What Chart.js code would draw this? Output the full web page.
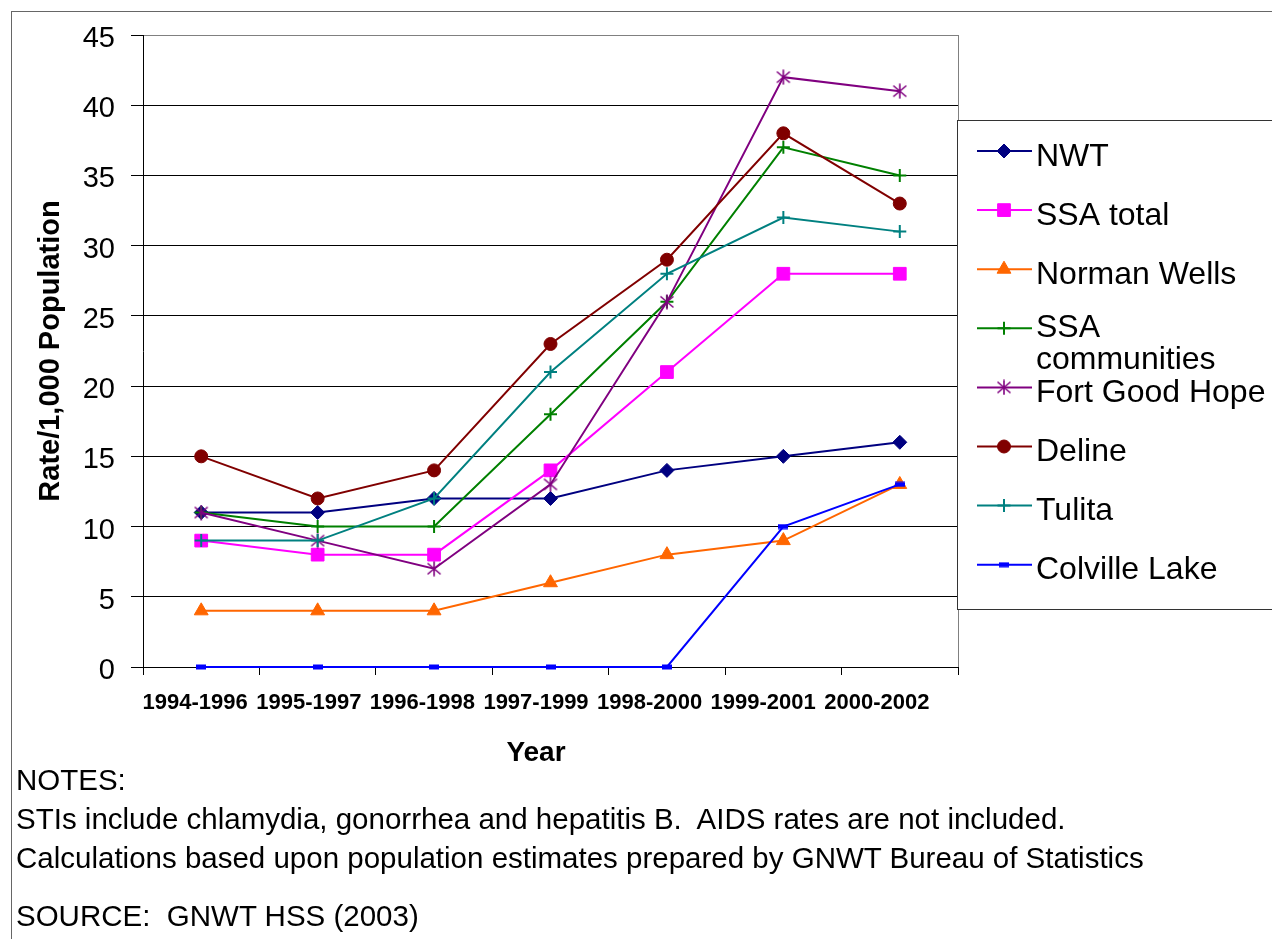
<!DOCTYPE html>
<html><head><meta charset="utf-8">
<script src="https://cdn.jsdelivr.net/npm/chart.js@4.4.1/dist/chart.umd.min.js"></script>
<style>
html,body{margin:0;padding:0;background:#fff;width:1272px;height:939px;overflow:hidden;position:relative;font-family:'Liberation Sans',Arial,sans-serif}
#frame{position:absolute;left:11px;top:11px;width:1400px;height:1100px;border:1px solid #666;box-sizing:border-box}
#c{position:absolute;left:0;top:0}
.note{position:absolute;left:16px;font-size:29.5px;line-height:29px;white-space:pre;color:#000}
</style></head><body>
<div id="frame"></div>
<canvas id="c" width="1272" height="939"></canvas>
<div class="note" style="top:765px">NOTES:</div>
<div class="note" style="top:804px">STIs include chlamydia, gonorrhea and hepatitis B.  AIDS rates are not included.</div>
<div class="note" style="top:843px">Calculations based upon population estimates prepared by GNWT Bureau of Statistics</div>
<div class="note" style="top:901px">SOURCE:  GNWT HSS (2003)</div>
<script>
// ---- data ----
const categories = ['1994-1996','1995-1997','1996-1998','1997-1999','1998-2000','1999-2001','2000-2002'];
const seriesNames = ['NWT','SSA total','Norman Wells','SSA communities','Fort Good Hope','Deline','Tulita','Colville Lake'];
const nwt            = [11, 11, 12, 12, 14, 15, 16];
const ssaTotal       = [9, 8, 8, 14, 21, 28, 28];
const normanWells    = [4, 4, 4, 6, 8, 9, 13];
const ssaCommunities = [11, 10, 10, 18, 26, 37, 35];
const fortGoodHope   = [11, 9, 7, 13, 26, 42, 41];
const deline         = [15, 12, 14, 23, 29, 38, 33];
const tulita         = [9, 9, 12, 21, 28, 32, 31];
const colvilleLake   = [0, 0, 0, 0, 0, 10, 13];
const yMin = 0, yMax = 45, yStep = 5;
const yTitle = 'Rate/1,000 Population';
const xTitle = 'Year';

// ---- styling ----
const FONT = "'Liberation Sans', Arial, sans-serif";
Chart.defaults.font.family = FONT;
Chart.defaults.color = '#000';

function makeAsterisk(color){
  const c = document.createElement('canvas'); c.width = 16; c.height = 16;
  const g = c.getContext('2d'); g.strokeStyle = color; g.lineWidth = 1.6;
  g.beginPath();
  g.moveTo(8,0.5); g.lineTo(8,15.5);
  g.moveTo(1.5,2.5); g.lineTo(14.5,13.5);
  g.moveTo(14.5,2.5); g.lineTo(1.5,13.5);
  g.stroke(); return c;
}
function makeBar(color){
  const c = document.createElement('canvas'); c.width = 10; c.height = 6;
  const g = c.getContext('2d'); g.fillStyle = color; g.fillRect(0,0.5,10,5); return c;
}

const styles = [
  {color:'#000080', pointStyle:'rectRot', radius:7, bw:1},
  {color:'#FF00FF', pointStyle:'rect', radius:9, bw:1},
  {color:'#FF6600', pointStyle:'triangle', radius:8, bw:1},
  {color:'#008000', pointStyle:'cross', radius:6.5, bw:2},
  {color:'#800080', pointStyle:makeAsterisk('#800080'), radius:7, bw:0},
  {color:'#800000', pointStyle:'circle', radius:6.5, bw:1},
  {color:'#008080', pointStyle:'cross', radius:6.5, bw:2},
  {color:'#0000FF', pointStyle:makeBar('#0000FF'), radius:5, bw:0}
];
const values = [nwt, ssaTotal, normanWells, ssaCommunities, fortGoodHope, deline, tulita, colvilleLake];

const datasets = values.map((v, i) => ({
  label: seriesNames[i],
  data: v,
  borderColor: styles[i].color,
  backgroundColor: styles[i].color,
  borderWidth: 2,
  tension: 0,
  fill: false,
  pointStyle: styles[i].pointStyle,
  pointRadius: styles[i].radius,
  pointHoverRadius: styles[i].radius,
  pointBackgroundColor: styles[i].color,
  pointBorderColor: styles[i].color,
  pointBorderWidth: styles[i].bw,
  clip: false,
  order: -i
}));

const LABEL_SPREAD = 0.9757, LABEL_SHIFT = -14.5;

function wrapText(ctx, text, maxW){
  const words = text.split(' '); const lines = []; let cur = '';
  words.forEach(w => {
    const t = cur ? cur + ' ' + w : w;
    if (cur && ctx.measureText(t).width > maxW) { lines.push(cur); cur = w; } else cur = t;
  });
  if (cur) lines.push(cur);
  return lines;
}

const plotBorder = {
  id: 'plotBorder',
  beforeDatasetsDraw(chart){
    const {ctx, chartArea} = chart;
    ctx.save(); ctx.strokeStyle = '#808080'; ctx.lineWidth = 1;
    const x = Math.round(chartArea.right) + 0.5;
    ctx.beginPath(); ctx.moveTo(x, chartArea.top); ctx.lineTo(x, chartArea.bottom); ctx.stroke();
    ctx.restore();
  }
};

const legendBox = {
  id: 'legendBox',
  afterDraw(chart){
    const ctx = chart.ctx;
    ctx.save();
    ctx.fillStyle = '#fff'; ctx.fillRect(957, 120, 340, 489);
    ctx.strokeStyle = '#333'; ctx.lineWidth = 1; ctx.strokeRect(957.5, 120.5, 340, 489);
    ctx.font = '32px ' + FONT;
    chart.data.datasets.forEach((ds, i) => {
      const y = 151 + i * 59.1;
      ctx.strokeStyle = ds.borderColor; ctx.lineWidth = 2;
      ctx.beginPath(); ctx.moveTo(977, y); ctx.lineTo(1032, y); ctx.stroke();
      ctx.fillStyle = ds.pointBackgroundColor; ctx.strokeStyle = ds.pointBorderColor; ctx.lineWidth = ds.pointBorderWidth;
      Chart.helpers.drawPoint(ctx, {pointStyle: ds.pointStyle, radius: ds.pointRadius, rotation: 0, borderWidth: ds.pointBorderWidth}, 1004, y);
      ctx.fillStyle = '#000'; ctx.textAlign = 'left'; ctx.textBaseline = 'alphabetic';
      const lines = wrapText(ctx, ds.label, 240);
      const by = y + 14.5 - (lines.length - 1) * 6;
      lines.forEach((ln, k) => ctx.fillText(ln, 1036, by + k * 32));
    });
    ctx.restore();
  }
};

new Chart(document.getElementById('c'), {
  type: 'line',
  data: { labels: categories, datasets },
  plugins: [plotBorder, legendBox],
  options: {
    responsive: false,
    animation: false,
    devicePixelRatio: 1,
    layout: { padding: { left: 0, top: 35, right: 314, bottom: 169 } },
    plugins: { legend: { display: false }, tooltip: { enabled: false }, title: { display: false } },
    scales: {
      x: {
        type: 'category',
        offset: true,
        grid: { display: true, drawOnChartArea: false, drawTicks: true, tickLength: 8, offset: true, color: '#000', lineWidth: 1 },
        border: { display: true, color: '#000', width: 1 },
        ticks: { autoSkip: false, maxRotation: 0, minRotation: 0, padding: 15, color: '#000', font: { size: 22, weight: 'bold' } },
        title: { display: true, text: xTitle, color: '#000', font: { size: 28, weight: 'bold' }, padding: { top: 0, bottom: 0 } },
        afterFit(scale){ scale.height = 103; },
        afterUpdate(scale){
          if (scale._lblPatched) return;
          scale._lblPatched = true;
          const orig = scale._computeLabelItems;
          if (typeof orig === 'function') {
            scale._computeLabelItems = function(ca){
              const items = orig.call(this, ca);
              const mid = (this.left + this.right) / 2;
              items.forEach(it => {
                const t = it && it.options && it.options.translation;
                if (t) t[0] = mid + (t[0] - mid) * LABEL_SPREAD + LABEL_SHIFT;
              });
              return items;
            };
          }
          const origTitle = scale.drawTitle;
          if (typeof origTitle === 'function') {
            scale.drawTitle = function(){
              this.ctx.save(); this.ctx.translate(LABEL_SHIFT, 0); origTitle.call(this); this.ctx.restore();
            };
          }
        }
      },
      y: {
        min: yMin, max: yMax,
        grid: { color: c => (c.tick && c.tick.value === yMax) ? '#808080' : '#000', tickColor: '#000', lineWidth: 1, drawTicks: true, tickLength: 12 },
        border: { display: true, color: '#000', width: 1 },
        ticks: { stepSize: yStep, padding: 16, labelOffset: 4, color: '#000', font: { size: 29 } },
        title: { display: true, text: yTitle, color: '#000', font: { size: 29, weight: 'bold' }, padding: { top: 34, bottom: 0 } },
        afterFit(scale){ scale.width = 143; }
      }
    }
  }
});
</script>
</body></html>
